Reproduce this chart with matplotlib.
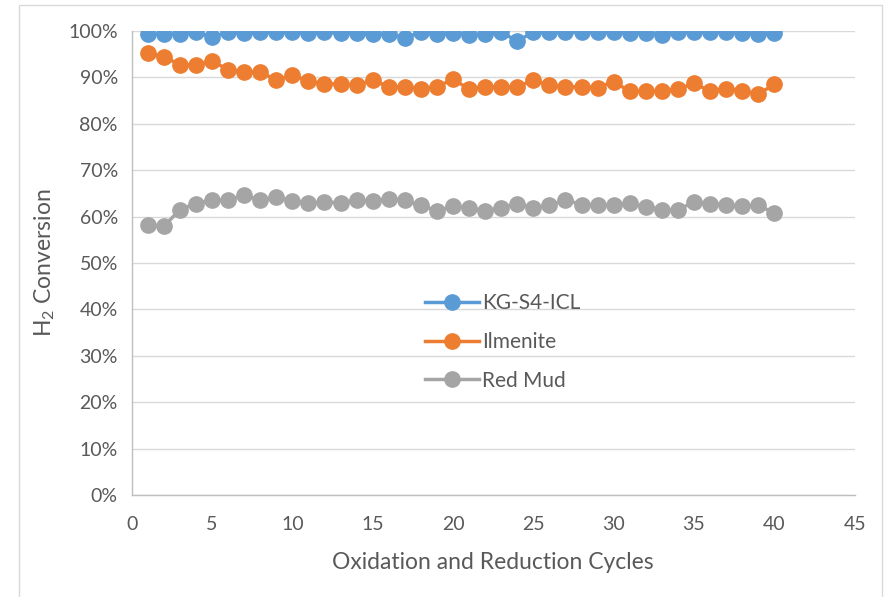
import matplotlib
matplotlib.use("Agg")
import matplotlib.pyplot as plt
from matplotlib.ticker import PercentFormatter, MultipleLocator
from matplotlib.patches import Rectangle

cycles = list(range(1, 41))
kg_s4_icl = [99.3, 99.3, 99.3, 99.7, 98.8, 99.7, 99.5, 99.7, 99.7, 99.7,
             99.6, 99.7, 99.6, 99.6, 99.3, 99.3, 98.6, 99.7, 99.3, 99.5,
             99.2, 99.3, 99.8, 97.8, 99.8, 99.8, 99.8, 99.8, 99.8, 99.8,
             99.6, 99.6, 99.2, 99.8, 99.8, 99.8, 99.8, 99.6, 99.3, 99.5]
ilmenite = [95.2, 94.5, 92.7, 92.7, 93.5, 91.7, 91.2, 91.2, 89.4, 90.5,
            89.2, 88.6, 88.6, 88.3, 89.4, 88.0, 88.0, 87.6, 88.0, 89.6,
            87.5, 88.0, 88.0, 88.0, 89.4, 88.3, 88.0, 88.0, 87.8, 89.1,
            87.0, 87.0, 87.0, 87.5, 88.7, 87.1, 87.6, 87.1, 86.4, 88.5]
red_mud = [58.2, 57.9, 61.5, 62.8, 63.6, 63.6, 64.6, 63.5, 64.2, 63.4,
           62.9, 63.1, 63.0, 63.5, 63.3, 63.9, 63.5, 62.4, 61.3, 62.2,
           61.9, 61.2, 61.9, 62.8, 61.9, 62.4, 63.6, 62.6, 62.6, 62.4,
           62.9, 62.1, 61.5, 61.5, 63.1, 62.8, 62.6, 62.2, 62.4, 60.8]
series_names = ["KG-S4-ICL", "Ilmenite", "Red Mud"]
colors = ["#5B9BD5", "#ED7D31", "#A5A5A5"]

plt.rcParams['font.family'] = ['Lato', 'DejaVu Sans']
plt.rcParams['mathtext.fontset'] = 'custom'
plt.rcParams['mathtext.rm'] = 'Lato'
plt.rcParams['mathtext.it'] = 'Lato'

fig = plt.figure(figsize=(8.87, 5.97), dpi=100)
ax = fig.add_axes([0.1485, 0.171, 0.815, 0.777])

# outer chart border
fig.patches.append(Rectangle((19/887, -0.01), (882-19)/887, 1 - 5/597 + 0.01,
                             transform=fig.transFigure, fill=False,
                             edgecolor="#D9D9D9", linewidth=1.0))

for vals, name, c in zip([kg_s4_icl, ilmenite, red_mud], series_names, colors):
    ax.plot(cycles, vals, color=c, linewidth=2.5, marker='o', markersize=11,
            label=name, zorder=3)

ax.set_xlim(0, 45)
ax.set_ylim(0, 100)
ax.xaxis.set_major_locator(MultipleLocator(5))
ax.yaxis.set_major_locator(MultipleLocator(10))
ax.yaxis.set_major_formatter(PercentFormatter(decimals=0))
ax.grid(axis='y', color="#D9D9D9", linewidth=1.0, zorder=0)
ax.set_axisbelow(True)
for s in ['top', 'right']:
    ax.spines[s].set_visible(False)
for s in ['left', 'bottom']:
    ax.spines[s].set_color("#BFBFBF")
    ax.spines[s].set_linewidth(1.0)
ax.tick_params(axis='both', length=0, labelsize=14, colors="#595959")
ax.tick_params(axis='y', pad=10)
ax.tick_params(axis='x', pad=15)

ax.set_xlabel("Oxidation and Reduction Cycles", fontsize=16.5, color="#595959", labelpad=14)
ax.set_ylabel("H$_2$ Conversion", fontsize=16.5, color="#595959", labelpad=8)

leg = ax.legend(loc='center', bbox_to_anchor=(0.513, 0.33), frameon=False,
                fontsize=15, handlelength=2.6, labelspacing=0.9, handletextpad=0.15)
for t in leg.get_texts():
    t.set_color("#595959")

fig.savefig("out.png", dpi=100)
